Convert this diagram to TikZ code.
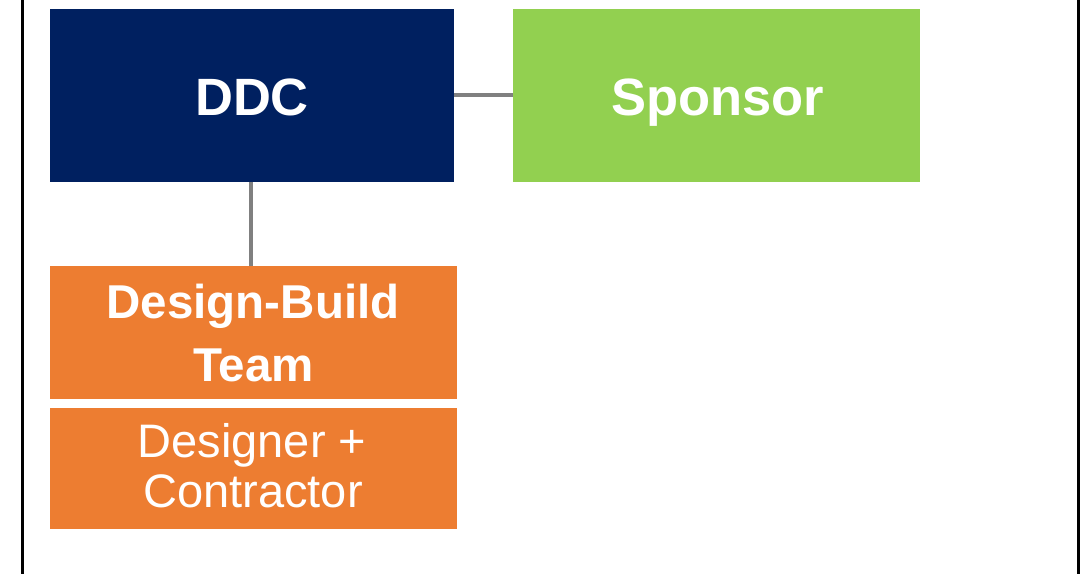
\documentclass[tikz,border=0pt]{standalone}
\usepackage{fontspec}
\setmainfont{Liberation Sans}
\definecolor{navy}{HTML}{002060}
\definecolor{leaf}{HTML}{92D050}
\definecolor{tangerine}{HTML}{ED7D31}
\definecolor{linkgray}{HTML}{808080}
\begin{document}
\begin{tikzpicture}[x=1pt,y=-1pt,
  boxnode/.style={draw=none,inner sep=0pt,outer sep=0pt,anchor=north west},
  txt/.style={inner sep=0pt,outer sep=0pt,anchor=base,text=white},
  bigbold/.style={font=\fontsize{52.5}{60}\selectfont\bfseries},
  midbold/.style={font=\fontsize{47.5}{56}\selectfont\bfseries},
  midreg/.style={font=\fontsize{47}{56}\selectfont},
  link/.style={draw=linkgray,line width=4.5pt},
  frame/.style={draw=black,line width=3pt}]
\useasboundingbox (0,0) rectangle (1084,573);
\draw[frame] (22.5,-5) -- (22.5,580);
\draw[frame] (1078.5,-5) -- (1078.5,580);
\node[boxnode,fill=navy,minimum width=404pt,minimum height=173pt] (ddc) at (50,9) {};
\node[boxnode,fill=leaf,minimum width=407pt,minimum height=173pt] (sp) at (513,9) {};
\node[boxnode,fill=tangerine,minimum width=407pt,minimum height=133pt] (db) at (50,266) {};
\node[boxnode,fill=tangerine,minimum width=407pt,minimum height=121pt] (dc) at (50,407.5) {};
\draw[link] (ddc.east |- 0,95) -- (sp.west |- 0,95);
\draw[link] (251,182) coordinate (v1) -- (v1 |- db.north);
\node[txt,bigbold] (tddc) at (252,115) {DDC};
\node[txt,bigbold] (tsp) at (717.5,115) {Sponsor};
\node[txt,midbold] (tdb1) at (253,318) {Design-Build};
\node[txt,midbold] (tdb2) at (253.5,381) {Team};
\node[txt,midreg] (tdc1) at (252,457) {Designer +};
\node[txt,midreg] (tdc2) at (253,507) {Contractor};
\end{tikzpicture}
\end{document}
